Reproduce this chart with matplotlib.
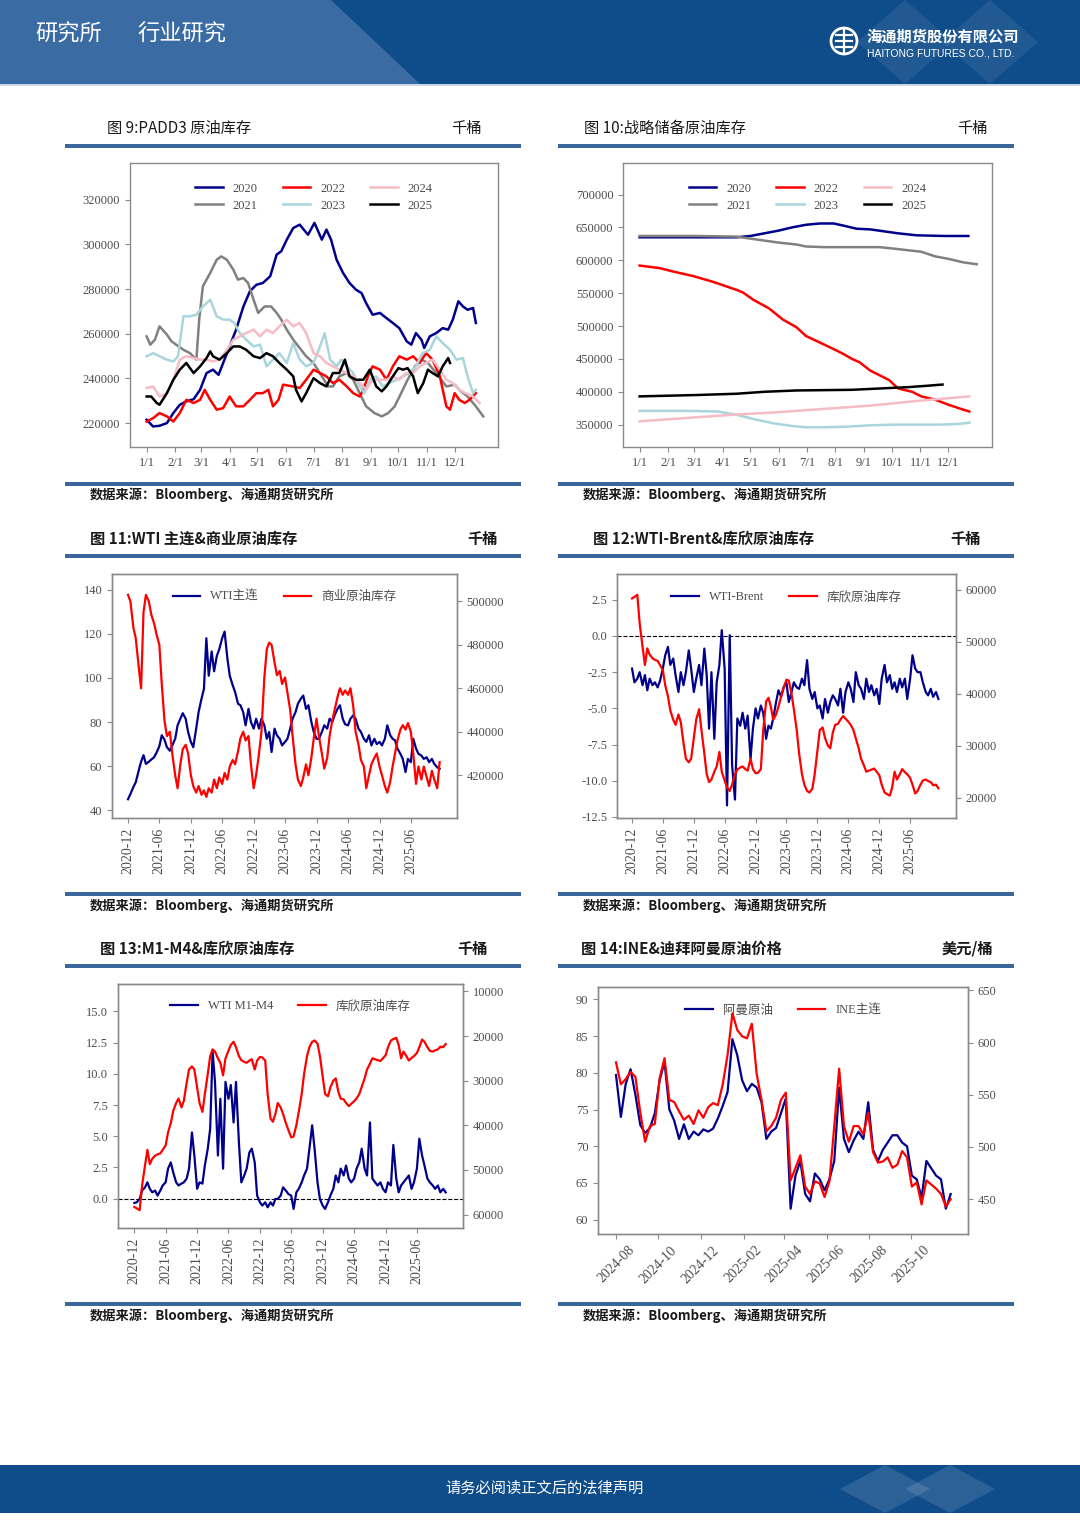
import numpy as np
import pandas as pd
import matplotlib
matplotlib.use("Agg")
import matplotlib.pyplot as plt
import matplotlib.dates as mdates
from matplotlib.patches import Polygon, Rectangle, Circle
from matplotlib.ticker import FormatStrFormatter

plt.rcParams["font.family"] = ["Liberation Serif", "Noto Sans CJK SC", "DejaVu Sans"]
plt.rcParams["axes.unicode_minus"] = False

# ---------------- 数据 ----------------
# 图9 PADD3 原油库存：x 为年内日序(1/1=0)，数值单位百万桶（画图时 *1000 = 千桶）
p3_d20 = [0, 7, 14, 22, 29, 36, 43, 51, 58, 65, 72, 78, 83, 90, 97, 105, 112, 119, 126, 134,
          141, 146, 152, 159, 166, 175, 182, 190, 195, 200, 206, 213, 220, 227, 233, 238, 245, 253, 260, 267,
          274, 282, 287, 292, 298, 301, 307, 314, 321, 327, 332, 338, 343, 348, 354, 357]
p3_2020 = [221.5, 218.5, 218.8, 220.0, 224.5, 228.2, 229.7, 230.7, 234.9, 242.4,
           243.9, 241.6, 246.9, 254.3, 261.8, 272.2, 279.0, 281.9, 282.7, 285.7,
           295.4, 296.9, 302.1, 307.3, 308.8, 304.3, 309.6, 302.1, 306.6, 302.1,
           293.1, 287.2, 282.7, 279.7, 278.2, 273.7, 268.5, 269.3, 267.0, 264.8,
           262.5, 256.6, 255.1, 260.3, 257.3, 253.6, 258.8, 260.3, 262.5, 261.8,
           266.3, 274.5, 272.2, 270.7, 271.5, 264.8]
p3_d21 = [0, 4, 9, 14, 22, 27, 32, 40, 47, 54, 57, 61, 69, 76, 81, 87, 94, 99, 105, 110, 116,
          121, 128, 135, 141, 146, 152, 159, 166, 173, 181, 190, 197, 202, 209, 217, 224, 231, 238, 247, 255,
          262, 269, 276, 283, 291, 298, 305, 314, 325, 334, 339, 348, 357, 365]
p3_2021 = [258.8, 255.1, 257.3, 263.3, 259.6, 256.6, 255.1, 252.8, 251.3, 248.4, 266.3,
           281.2, 287.2, 293.1, 294.6, 293.1, 288.7, 284.2, 284.9, 282.7, 275.2,
           269.3, 272.2, 272.2, 269.3, 266.3, 261.8, 257.3, 253.6, 249.9, 246.9,
           240.9, 236.4, 236.4, 240.9, 242.4, 239.4, 233.4, 227.5, 224.5, 223.0,
           224.5, 227.5, 233.4, 239.4, 245.4, 248.4, 246.9, 242.4, 236.4, 237.2,
           234.9, 231.9, 227.5, 223.0]
p3_d22 = [0, 7, 14, 22, 29, 36, 43, 51, 58, 63, 69, 76, 83, 90, 97, 105, 112, 119, 126, 132,
          137, 143, 148, 159, 166, 173, 181, 188, 195, 202, 209, 217, 224, 231, 235, 240, 245, 253, 260, 267,
          274, 282, 289, 296, 303, 310, 318, 325, 329, 334, 339, 345, 350, 357]
p3_2022 = [220.7, 222.2, 224.5, 223.0, 220.7, 224.5, 230.4, 229.0, 230.4, 234.9,
           230.4, 226.0, 226.7, 231.9, 227.5, 227.5, 230.4, 233.4, 233.4, 234.9,
           227.5, 230.4, 237.2, 236.4, 235.7, 239.4, 243.9, 242.4, 240.9, 237.9,
           239.4, 236.4, 233.4, 231.9, 234.9, 240.9, 245.4, 243.9, 239.4, 245.4,
           249.9, 248.4, 249.9, 246.9, 251.3, 248.4, 240.9, 227.5, 226.0, 233.4,
           230.4, 229.0, 230.4, 233.4]
p3_d23 = [0, 7, 14, 22, 29, 34, 40, 47, 54, 61, 69, 76, 83, 90, 95, 101, 108, 116, 123, 130,
          137, 144, 152, 159, 166, 173, 181, 188, 193, 199, 206, 211, 217, 224, 231, 236, 242, 249, 256, 263,
          271, 278, 285, 292, 299, 307, 314, 321, 329, 336, 343, 348, 354, 357]
p3_2023 = [249.9, 251.3, 249.9, 248.4, 247.6, 249.9, 267.8, 267.8, 268.5, 272.2,
           275.2, 267.8, 266.3, 266.3, 264.8, 260.3, 257.3, 254.3, 255.1, 245.4,
           248.4, 251.3, 246.9, 255.8, 248.4, 245.4, 246.9, 254.3, 260.3, 248.4,
           245.4, 248.4, 245.4, 242.4, 236.4, 233.4, 239.4, 240.9, 236.4, 237.9,
           239.4, 240.9, 242.4, 245.4, 251.3, 252.8, 258.8, 255.8, 252.8, 248.4,
           249.1, 240.9, 233.4, 234.9]
p3_d24 = [0, 7, 14, 22, 29, 36, 43, 51, 58, 65, 72, 79, 87, 94, 101, 108, 116, 123, 130, 137,
          144, 152, 159, 166, 173, 181, 188, 195, 202, 209, 217, 224, 231, 238, 245, 253, 260, 267, 274, 281,
          289, 296, 303, 310, 318, 325, 332, 339, 346, 354, 361]
p3_2024 = [235.7, 236.4, 231.9, 233.4, 239.4, 248.4, 249.9, 249.1, 248.4, 248.4,
           247.6, 248.4, 252.8, 257.3, 258.8, 260.3, 261.8, 258.8, 261.8, 260.3,
           263.3, 266.3, 263.3, 264.8, 260.3, 251.3, 249.9, 246.9, 245.4, 243.9,
           242.4, 240.9, 237.9, 234.9, 239.4, 239.4, 239.4, 240.9, 239.4, 242.4,
           242.4, 245.4, 246.9, 248.4, 243.9, 239.4, 237.9, 234.9, 233.4, 231.9, 229.0]
p3_d25 = [0, 5, 11, 14, 22, 29, 36, 43, 51, 58, 65, 69, 72, 79, 87, 94, 101, 108, 116, 123,
          130, 137, 144, 152, 159, 162, 168, 173, 181, 188, 195, 202, 209, 215, 220, 227, 235, 242, 249, 255,
          260, 267, 273, 278, 283, 289, 294, 300, 305, 310, 316, 321, 327, 329]
p3_2025 = [231.9, 231.9, 229.0, 228.2, 233.4, 239.4, 243.9, 246.9, 242.4, 245.4,
           249.1, 252.1, 249.9, 248.4, 251.3, 254.3, 254.3, 252.8, 249.9, 249.1,
           251.3, 249.9, 246.9, 243.9, 240.9, 234.9, 229.7, 233.4, 240.1, 237.9,
           236.4, 242.4, 242.4, 248.4, 240.9, 239.4, 239.4, 243.9, 236.4, 234.2,
           236.4, 240.9, 244.6, 243.9, 244.6, 240.9, 233.4, 237.9, 243.9, 242.4,
           240.9, 245.4, 249.1, 246.9]

# 图10 战略储备原油库存（百万桶）
spr_d20 = [0, 60, 105, 120, 135, 150, 165, 180, 195, 210, 220, 235, 250, 265, 280, 300, 330, 356]
spr_2020 = [635, 635, 635, 637, 641, 645, 650, 654, 656, 656, 653, 648, 647, 644, 641, 638, 637, 637]
spr_d21 = [0, 60, 105, 120, 135, 150, 170, 180, 200, 230, 260, 280, 305, 320, 335, 350, 365]
spr_2021 = [637, 637, 636, 633, 630, 627, 624, 621, 620, 620, 620, 617, 613, 606, 602, 597, 594]
spr_d22 = [0, 22, 36, 58, 80, 105, 112, 123, 140, 155, 170, 180, 195, 210, 220, 230, 238, 250, 260,
           270, 280, 295, 305, 320, 335, 348, 357]
spr_2022 = [592, 588, 583, 576, 567, 555, 551, 540, 527, 510, 498, 485, 475, 465, 458, 450, 445, 432, 425,
            418, 405, 400, 393, 388, 380, 374, 370]
spr_d23 = [0, 50, 85, 105, 125, 145, 165, 180, 200, 225, 250, 275, 300, 325, 345, 357]
spr_2023 = [371, 371, 370, 365, 358, 352, 348, 346, 346, 347, 349, 350, 350, 350, 351, 353]
spr_d24 = [0, 50, 100, 150, 200, 250, 300, 357]
spr_2024 = [355, 360, 365, 369, 374, 379, 386, 393]
spr_d25 = [0, 60, 105, 135, 170, 200, 230, 260, 290, 310, 328]
spr_2025 = [393, 395, 397, 400, 402, 402.5, 403, 405, 407, 409, 411]

month_days = [0, 31, 59, 90, 120, 151, 181, 212, 243, 273, 304, 334]
month_labels = ["1/1", "2/1", "3/1", "4/1", "5/1", "6/1", "7/1", "8/1", "9/1", "10/1", "11/1", "12/1"]

# 图11-13：半月频（2020-12 起，每月 1 日、15 日）
wti = [45.0, 47.4, 50.5, 52.7, 58.0, 62.0, 65.0, 61.0, 62.0, 63.0,
       64.0, 66.0, 69.0, 74.0, 72.0, 68.6, 67.0, 69.4, 72.4, 78.5,
       81.5, 84.0, 81.5, 75.5, 71.0, 68.6, 77.0, 84.5, 90.6, 95.0,
       118.0, 101.0, 112.0, 103.0, 110.0, 113.0, 118.0, 121.0, 109.0, 101.0,
       96.7, 93.6, 88.3, 87.6, 84.5, 78.5, 86.0, 80.0, 77.0, 81.5,
       77.0, 81.5, 78.5, 72.4, 75.5, 66.4, 77.0, 74.0, 72.4, 69.4,
       71.0, 72.4, 77.0, 81.5, 84.5, 88.3, 90.6, 92.0, 86.0, 87.6,
       80.0, 75.5, 72.4, 72.4, 75.5, 78.5, 77.0, 81.5, 80.0, 83.0,
       86.0, 87.6, 81.5, 79.0, 78.5, 81.5, 83.0, 81.5, 77.0, 75.5,
       72.4, 71.0, 74.0, 69.4, 72.4, 70.0, 71.0, 69.4, 72.4, 78.5,
       74.0, 72.4, 71.7, 68.0, 65.6, 63.3, 57.3, 63.3, 61.8, 72.4,
       68.0, 65.6, 64.8, 63.3, 64.0, 61.8, 63.3, 61.0, 59.5, 58.8]
com_stock = [503, 500, 488, 483, 470, 460, 495, 503, 500, 494,
             490, 485, 480, 462, 445, 438, 440, 430, 420, 414,
             425, 432, 434, 430, 420, 415, 412, 415, 411, 413,
             410, 414, 412, 418, 414, 419, 416, 421, 418, 424,
             427, 425, 431, 437, 440, 436, 438, 425, 414, 420,
             430, 440, 465, 478, 481, 480, 472, 466, 468, 462,
             465, 458, 450, 438, 425, 418, 415, 419, 425, 420,
             428, 437, 446, 438, 430, 423, 428, 438, 445, 450,
             456, 460, 457, 459, 457, 460, 452, 440, 434, 427,
             424, 414, 420, 425, 428, 430, 424, 420, 415, 412,
             417, 424, 430, 436, 441, 443, 441, 444, 440, 430,
             416, 424, 418, 424, 419, 415, 422, 418, 414, 426]
wti_brent = [-2.25, -3.2, -2.95, -2.5, -3.4, -2.7, -3.75, -2.95, -3.4, -3.2,
             -3.55, -3.1, -2.25, -1.33, -0.75, -2.0, -1.56, -2.7, -3.87, -2.5,
             -3.4, -2.5, -1.0, -2.25, -3.87, -2.95, -2.0, -3.4, -0.87, -2.7,
             -6.4, -2.5, -7.1, -3.2, -2.0, 0.4, -2.25, -11.7, 0.05, -8.9,
             -11.3, -5.7, -6.2, -5.3, -6.4, -5.5, -8.5, -6.4, -5.0, -5.7,
             -4.8, -5.3, -7.1, -6.2, -6.4, -5.7, -4.56, -3.75, -4.2, -3.55,
             -3.2, -4.56, -3.87, -3.2, -3.55, -3.65, -2.95, -3.4, -1.67, -3.65,
             -4.35, -3.87, -5.0, -4.8, -5.7, -4.35, -5.3, -4.56, -4.1, -4.35,
             -4.8, -3.65, -5.3, -3.87, -3.2, -3.65, -4.56, -2.5, -3.4, -3.65,
             -4.35, -2.95, -3.87, -3.4, -4.1, -3.65, -4.7, -2.95, -2.0, -3.2,
             -2.7, -3.65, -3.2, -3.87, -2.95, -3.55, -2.95, -4.35, -2.95, -1.33,
             -2.25, -2.5, -2.5, -3.2, -3.87, -4.1, -3.65, -4.2, -3.87, -4.35]
cushing = [58.3, 58.6, 59.0, 53.5, 49.0, 45.5, 48.7, 47.5, 46.8, 46.5,
           46.3, 45.5, 44.5, 41.6, 39.5, 36.8, 35.0, 34.0, 36.0, 34.5,
           30.5, 27.5, 26.8, 27.5, 31.5, 35.0, 37.0, 33.0, 28.5, 24.5,
           23.0, 23.5, 25.0, 26.0, 28.8, 25.0, 23.3, 22.0, 21.3, 22.5,
           24.5, 25.4, 25.8, 26.0, 25.5, 25.2, 27.5, 25.5, 24.7, 24.8,
           25.5, 33.0, 38.5, 39.2, 37.5, 35.0, 36.0, 37.5, 39.5, 41.0,
           42.7, 42.5, 40.0, 37.0, 33.0, 28.5, 24.5, 22.5, 21.3, 21.0,
           21.7, 24.5, 29.0, 33.0, 33.5, 31.5, 30.0, 29.5, 32.5, 34.0,
           34.2, 35.0, 35.7, 35.2, 34.6, 34.0, 33.0, 31.4, 29.5, 27.5,
           26.2, 25.0, 25.2, 25.4, 25.6, 25.0, 24.3, 22.5, 21.0, 20.7,
           20.4, 22.0, 25.0, 23.5, 24.5, 25.5, 24.9, 24.5, 23.8, 22.5,
           20.8, 21.3, 22.5, 23.3, 23.5, 23.2, 23.0, 22.4, 22.5, 21.8]
m1m4 = [-0.35, -0.3, -0.03, 0.64, 0.9, 1.3, 0.78, 0.5, 0.64, 0.24,
        0.64, 1.05, 1.3, 2.4, 2.9, 2.1, 1.3, 1.05, 1.2, 1.3,
        1.6, 2.4, 5.3, 3.45, 0.78, 1.3, 1.2, 2.65, 4.0, 5.6,
        11.8, 9.35, 3.45, 8.0, 2.4, 9.35, 8.0, 9.1, 6.1, 9.35,
        4.5, 1.3, 1.85, 2.4, 3.7, 4.0, 2.9, 0.24, -0.3, -0.56,
        -0.3, -0.7, -0.3, -0.56, -0.03, -0.03, 0.24, 0.9, 0.64, 0.37,
        0.24, -0.83, 0.5, 0.78, 1.3, 1.85, 2.4, 4.0, 5.87, 4.0,
        1.3, -0.03, -0.56, -0.83, -0.3, 0.24, 0.78, 1.85, 1.3, 2.4,
        1.85, 2.65, 1.6, 1.3, 1.6, 2.4, 2.9, 4.0, 2.4, 1.85,
        6.1, 1.6, 1.3, 1.05, 1.3, 0.78, 0.5, 1.3, 1.05, 4.3,
        1.6, 0.5, 1.05, 1.3, 1.6, 1.85, 0.78, 1.3, 2.4, 4.8,
        3.45, 2.65, 1.6, 1.3, 1.05, 0.78, 1.05, 0.5, 0.78, 0.5]

# 图14：周频（2024-08-01 起）
oman = [79.7, 74.0, 78.5, 80.5, 77.0, 72.9, 71.8, 72.5, 74.5, 79.0,
        81.5, 75.0, 73.5, 71.0, 73.0, 71.0, 72.0, 71.5, 72.3, 72.0,
        72.4, 73.8, 75.5, 77.4, 84.6, 82.4, 79.0, 77.5, 78.5, 78.0,
        76.0, 71.0, 72.0, 72.5, 74.5, 76.5, 61.5, 66.0, 68.0, 63.5,
        62.5, 66.3, 65.5, 64.0, 65.5, 68.0, 78.0, 71.0, 69.2, 70.8,
        72.0, 71.0, 76.0, 69.5, 68.0, 69.5, 70.5, 71.5, 71.5, 70.5,
        70.0, 66.0, 65.5, 63.0, 68.0, 67.0, 66.0, 65.5, 61.5, 63.5]
ine = [581, 560, 565, 572, 567, 533, 505, 520, 522, 566,
       585, 545, 543, 534, 526, 530, 522, 535, 528, 538,
       542, 540, 560, 588, 628, 612, 606, 604, 618, 570,
       545, 515, 520, 528, 545, 552, 468, 480, 492, 462,
       455, 467, 465, 452, 467, 520, 575, 520, 505, 520,
       520, 512, 533, 495, 485, 486, 490, 480, 483, 496,
       490, 462, 466, 445, 468, 464, 460, 455, 443, 450]

semi = pd.date_range("2020-12-01", periods=len(wti), freq="SMS")
weekly = pd.date_range("2024-08-01", periods=len(oman), freq="7D")

# ---------------- 样式 ----------------
W, H = 1080, 1527
NAVY = "#00008b"
RED = "#ff0000"
FRAME = "#8a8a8a"
TICKTXT = "#4d4d4d"
BAND = "#0f4c8a"
RULE = "#3a669c"
CJK = ["Noto Sans CJK SC", "DejaVu Sans"]

fig = plt.figure(figsize=(W / 100, H / 100), dpi=100)
fig.patch.set_facecolor("white")

page = fig.add_axes([0, 0, 1, 1])
page.set_xlim(0, W)
page.set_ylim(H, 0)
page.axis("off")

# 页眉
page.add_patch(Rectangle((0, 0), W, 84, color=BAND, lw=0))
page.add_patch(Polygon([(0, 0), (331, 0), (420, 84), (0, 84)], closed=True, color="#3a6ca3", lw=0))
for cx in (905, 990):
    page.add_patch(Polygon([(cx, 0), (cx + 48, 42), (cx, 84), (cx - 48, 42)], closed=True,
                           color="white", alpha=0.08, lw=0))
page.add_patch(Rectangle((0, 84), W, 2, color="#c9d6e6", lw=0))
page.text(35, 34, "研究所", color="white", fontsize=16, family=CJK, va="center")
page.text(137, 34, "行业研究", color="white", fontsize=16, family=CJK, va="center")
page.add_patch(Circle((844, 41), 13, fill=False, ec="white", lw=2))
for yy in (35, 41, 47):
    page.plot([836, 852], [yy, yy], color="white", lw=1.6)
page.plot([844, 844], [30, 52], color="white", lw=1.6)
page.text(866, 37, "海通期货股份有限公司", color="white", fontsize=11, weight="bold",
          family=CJK, va="center")
page.text(867, 53, "HAITONG FUTURES CO., LTD.", color="white", fontsize=7.5,
          family=["Liberation Sans", "DejaVu Sans"], va="center")

# 页脚
page.add_patch(Rectangle((0, 1465), W, 48, color=BAND, lw=0))
for cx in (885, 950):
    page.add_patch(Polygon([(cx, 1465), (cx + 45, 1489), (cx, 1513), (cx - 45, 1489)], closed=True,
                           color="white", alpha=0.12, lw=0))
page.text(545, 1488, "请务必阅读正文后的法律声明", color="white", fontsize=11,
          family=CJK, ha="center", va="center")

# 标题、分隔线、来源
for y in (146, 484, 556, 894, 966, 1304):
    page.add_patch(Rectangle((65, y - 2), 456, 4, color=RULE, lw=0))
    page.add_patch(Rectangle((558, y - 2), 456, 4, color=RULE, lw=0))

titles = [
    (107, 128, "图 9:PADD3 原油库存", 482, "千桶", "normal"),
    (584, 128, "图 10:战略储备原油库存", 988, "千桶", "normal"),
    (90, 539, "图 11:WTI 主连&商业原油库存", 498, "千桶", "bold"),
    (593, 539, "图 12:WTI-Brent&库欣原油库存", 981, "千桶", "bold"),
    (100, 949, "图 13:M1-M4&库欣原油库存", 488, "千桶", "bold"),
    (581, 949, "图 14:INE&迪拜阿曼原油价格", 993, "美元/桶", "bold"),
]
for tx, ty, t, ux, u, wt in titles:
    page.text(tx, ty, t, fontsize=11, weight=wt, family=CJK, va="center", color="#1a1a1a")
    page.text(ux, ty, u, fontsize=11, weight=wt, family=CJK, va="center", ha="right", color="#1a1a1a")
for sy in (495, 906, 1316):
    for sx in (90, 583):
        page.text(sx, sy, "数据来源：Bloomberg、海通期货研究所", fontsize=9.5, weight="bold",
                  family=CJK, va="center", color="#1a1a1a")


def add_ax(l, t, r, b):
    return fig.add_axes([l / W, 1 - b / H, (r - l) / W, (b - t) / H])


def style(ax, size=9):
    for s in ax.spines.values():
        s.set_color(FRAME)
        s.set_linewidth(1.0)
    ax.tick_params(colors=FRAME, labelcolor=TICKTXT, labelsize=size, length=3.5, width=0.8)


def legend(ax, handles, labels, y, ncol=2):
    leg = ax.legend(handles, labels, loc="center", bbox_to_anchor=(0.5, y), ncol=ncol,
                    frameon=False, fontsize=9, handlelength=2.2, columnspacing=2.0,
                    handletextpad=0.8, labelspacing=0.4)
    for t in leg.get_texts():
        t.set_color(TICKTXT)
    return leg


year_colors = [NAVY, "#808080", RED, "#a9d5dc", "#f6bcc6", "black"]
year_labels = ["2020", "2021", "2022", "2023", "2024", "2025"]

# 图9
ax9 = add_ax(130, 163, 498, 447)
style(ax9)
p3_x = [p3_d20, p3_d21, p3_d22, p3_d23, p3_d24, p3_d25]
p3_y = [p3_2020, p3_2021, p3_2022, p3_2023, p3_2024, p3_2025]
h9 = []
for xs, ys, c in zip(p3_x, p3_y, year_colors):
    h9 += ax9.plot(xs, np.array(ys) * 1000, color=c, lw=1.8)
ax9.set_xlim(-18, 381)
ax9.set_ylim(209300, 336400)
ax9.set_yticks(np.arange(220000, 320001, 20000))
ax9.set_xticks(month_days)
ax9.set_xticklabels(month_labels)
legend(ax9, h9, year_labels, 0.879, ncol=3)

# 图10
ax10 = add_ax(623, 163, 992, 447)
style(ax10)
spr_x = [spr_d20, spr_d21, spr_d22, spr_d23, spr_d24, spr_d25]
spr_y = [spr_2020, spr_2021, spr_2022, spr_2023, spr_2024, spr_2025]
h10 = []
for xs, ys, c in zip(spr_x, spr_y, year_colors):
    h10 += ax10.plot(xs, np.array(ys) * 1000, color=c, lw=1.8)
ax10.set_xlim(-18, 381.6)
ax10.set_ylim(316000, 748000)
ax10.set_yticks(np.arange(350000, 700001, 50000))
ax10.set_xticks(month_days)
ax10.set_xticklabels(month_labels)
legend(ax10, h10, year_labels, 0.879, ncol=3)

half_year_ticks = pd.date_range("2020-12-01", "2025-06-01", freq="6MS")


def date_axis(ax, left, right, ticks, rot, fmt="%Y-%m"):
    ax.set_xlim(pd.Timestamp(left), pd.Timestamp(right))
    ax.set_xticks(ticks)
    ax.xaxis.set_major_formatter(mdates.DateFormatter(fmt))
    for lab in ax.get_xticklabels():
        lab.set_rotation(rot)
        lab.set_fontsize(10)


# 图11
ax11 = add_ax(112, 574, 457, 818)
ax11b = ax11.twinx()
style(ax11)
style(ax11b)
l1, = ax11.plot(semi, wti, color=NAVY, lw=1.6)
l2, = ax11b.plot(semi, np.array(com_stock) * 1000, color=RED, lw=1.6)
ax11.set_ylim(36.5, 147.1)
ax11.set_yticks(np.arange(40, 141, 20))
ax11b.set_ylim(400300, 512600)
ax11b.set_yticks(np.arange(420000, 500001, 20000))
date_axis(ax11, "2020-08-30", "2026-02-24", half_year_ticks, 90)
legend(ax11, [l1, l2], ["WTI主连", "商业原油库存"], 0.906)

# 图12
ax12 = add_ax(617, 574, 956, 818)
ax12b = ax12.twinx()
style(ax12)
style(ax12b)
ax12.axhline(0, color="black", ls="--", lw=0.8)
l1, = ax12.plot(semi, wti_brent, color=NAVY, lw=1.6)
l2, = ax12b.plot(semi, np.array(cushing) * 1000, color=RED, lw=1.6)
ax12.set_ylim(-12.57, 4.28)
ax12.set_yticks(np.arange(-12.5, 2.6, 2.5))
ax12.yaxis.set_major_formatter(FormatStrFormatter("%.1f"))
ax12b.set_ylim(16100, 63000)
ax12b.set_yticks(np.arange(20000, 60001, 10000))
date_axis(ax12, "2020-09-03", "2026-02-27", half_year_ticks, 90)
legend(ax12, [l1, l2], ["WTI-Brent", "库欣原油库存"], 0.906)

# 图13（右轴反向）
ax13 = add_ax(118, 984, 463, 1228)
ax13b = ax13.twinx()
style(ax13)
style(ax13b)
ax13.axhline(0, color="black", ls="--", lw=0.8)
l1, = ax13.plot(semi, m1m4, color=NAVY, lw=1.6)
l2, = ax13b.plot(semi, np.array(cushing) * 1000, color=RED, lw=1.6)
ax13.set_ylim(-2.36, 17.2)
ax13.set_yticks(np.arange(0, 15.1, 2.5))
ax13.yaxis.set_major_formatter(FormatStrFormatter("%.1f"))
ax13b.set_ylim(63000, 8350)
ax13b.set_yticks(np.arange(10000, 60001, 10000))
date_axis(ax13, "2020-08-28", "2026-02-24", half_year_ticks, 90)
legend(ax13, [l1, l2], ["WTI M1-M4", "库欣原油库存"], 0.91)

# 图14
ax14 = add_ax(598, 987, 968, 1234)
ax14b = ax14.twinx()
style(ax14)
style(ax14b)
l1, = ax14.plot(weekly, oman, color=NAVY, lw=1.6)
l2, = ax14b.plot(weekly, ine, color=RED, lw=1.6)
ax14.set_ylim(58.05, 91.7)
ax14.set_yticks(np.arange(60, 91, 5))
ax14b.set_ylim(416.6, 653.2)
ax14b.set_yticks(np.arange(450, 651, 50))
date_axis(ax14, "2024-07-06", "2025-12-22", pd.date_range("2024-08-01", "2025-10-01", freq="2MS"), 45)
legend(ax14, [l1, l2], ["阿曼原油", "INE主连"], 0.905)

fig.savefig("out.png", dpi=100, facecolor="white")
